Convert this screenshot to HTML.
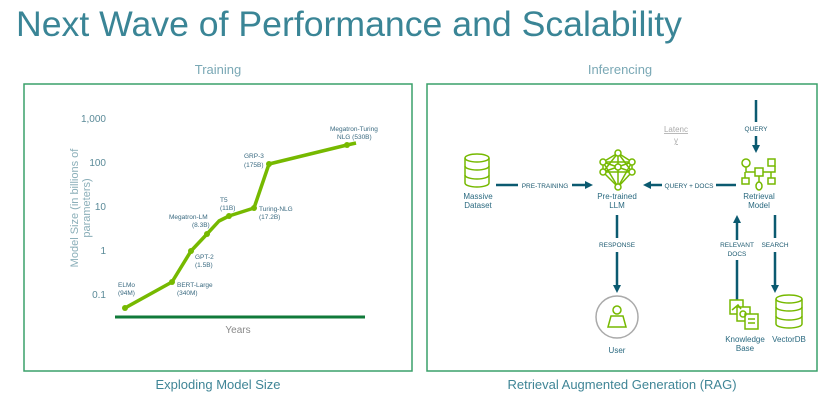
<!DOCTYPE html>
<html><head><meta charset="utf-8"><style>
html,body{margin:0;padding:0;background:#fff;}
svg{display:block;font-family:"Liberation Sans",sans-serif;}
</style></head><body>
<svg width="831" height="402" viewBox="0 0 831 402" xmlns="http://www.w3.org/2000/svg">
<defs>
<marker id="ah" markerWidth="8" markerHeight="8" refX="5" refY="4" orient="auto" markerUnits="userSpaceOnUse">
<path d="M0,0 L8,4 L0,8 Z" fill="#0b5a70"/></marker>
</defs>
<text x="16" y="36" font-size="35" fill="#3a8596" textLength="666" lengthAdjust="spacingAndGlyphs">Next Wave of Performance and Scalability</text>
<text x="218" y="74" font-size="13" fill="#7aa8b5" text-anchor="middle">Training</text>
<text x="620" y="74" font-size="13" fill="#7aa8b5" text-anchor="middle">Inferencing</text>
<rect x="24" y="84" width="388" height="287" fill="none" stroke="#3aa06a" stroke-width="1.5"/>
<rect x="427" y="84" width="390" height="287" fill="none" stroke="#3aa06a" stroke-width="1.5"/>
<text x="218" y="389" font-size="13" fill="#3f8596" text-anchor="middle">Exploding Model Size</text>
<text x="622" y="389" font-size="13" fill="#3f8596" text-anchor="middle">Retrieval Augmented Generation (RAG)</text>
<g font-size="10" fill="#5a8a98" text-anchor="end">
<text x="106" y="122">1,000</text><text x="106" y="166">100</text><text x="106" y="210">10</text><text x="106" y="254">1</text><text x="106" y="298">0.1</text>
</g>
<text transform="translate(78,208) rotate(-90)" font-size="11" fill="#8aaeb8" text-anchor="middle">Model Size (in billions of</text>
<text transform="translate(90,208) rotate(-90)" font-size="11" fill="#8aaeb8" text-anchor="middle">parameters)</text>
<line x1="115" y1="317" x2="365" y2="317" stroke="#107a3a" stroke-width="3"/>
<text x="238" y="333" font-size="10" fill="#888" text-anchor="middle">Years</text>
<polyline points="125,308 172,282 191,251 207,234 219,221 229,216 254,208 269,164 347,145 356,143" fill="none" stroke="#76b900" stroke-width="3.5" stroke-linejoin="round"/>
<g fill="#76b900"><circle cx="125" cy="308" r="3"/><circle cx="172" cy="282" r="3"/><circle cx="191" cy="251" r="3"/><circle cx="207" cy="234" r="3"/><circle cx="229" cy="216" r="3"/><circle cx="254" cy="208" r="3"/><circle cx="269" cy="164" r="3"/><circle cx="347" cy="145" r="3"/></g>
<g font-size="6.5" fill="#3a6a80">
<text x="118" y="287">ELMo</text><text x="118" y="295">(94M)</text>
<text x="177" y="287">BERT-Large</text><text x="177" y="295">(340M)</text>
<text x="195" y="259">GPT-2</text><text x="195" y="267">(1.5B)</text>
<text x="169" y="219">Megatron-LM</text><text x="192" y="227">(8.3B)</text>
<text x="220" y="202">T5</text><text x="220" y="210">(11B)</text>
<text x="259" y="211">Turing-NLG</text><text x="259" y="219">(17.2B)</text>
<text x="244" y="158">GRP-3</text><text x="244" y="167">(175B)</text>
<text x="330" y="131">Megatron-Turing</text><text x="337" y="139">NLG (530B)</text>
</g>
<g stroke="#0b5a70" stroke-width="2.5" fill="none">
<line x1="496" y1="185" x2="518" y2="185"/><line x1="572" y1="185" x2="590" y2="185" marker-end="url(#ah)"/>
<line x1="736" y1="185" x2="716" y2="185"/><line x1="662" y1="185" x2="646" y2="185" marker-end="url(#ah)"/>
<line x1="756" y1="100" x2="756" y2="122"/><line x1="756" y1="136" x2="756" y2="150" marker-end="url(#ah)"/>
<line x1="617" y1="215" x2="617" y2="238"/><line x1="617" y1="252" x2="617" y2="290" marker-end="url(#ah)"/>
<line x1="737" y1="300" x2="737" y2="260"/><line x1="737" y1="240" x2="737" y2="218" marker-end="url(#ah)"/>
<line x1="775" y1="215" x2="775" y2="238"/><line x1="775" y1="252" x2="775" y2="290" marker-end="url(#ah)"/>
</g>
<g font-size="6.5" fill="#1d5a70" text-anchor="middle">
<text x="545" y="188">PRE-TRAINING</text>
<text x="689" y="188">QUERY + DOCS</text>
<text x="756" y="131">QUERY</text>
<text x="617" y="247">RESPONSE</text>
<text x="737" y="247">RELEVANT</text><text x="737" y="256">DOCS</text>
<text x="775" y="247">SEARCH</text>
</g>
<text x="676" y="132" font-size="8" fill="#aaa" text-anchor="middle" text-decoration="underline">Latenc</text>
<text x="676" y="143" font-size="8" fill="#aaa" text-anchor="middle" text-decoration="underline">y</text>
<g font-size="8" fill="#2b6a80" text-anchor="middle">
<text x="478" y="199">Massive</text><text x="478" y="208">Dataset</text>
<text x="617" y="199">Pre-trained</text><text x="617" y="208">LLM</text>
<text x="759" y="199">Retrieval</text><text x="759" y="208">Model</text>
<text x="617" y="353">User</text>
<text x="745" y="342">Knowledge</text><text x="745" y="351">Base</text>
<text x="789" y="342">VectorDB</text>
</g>
<g stroke="#76b900" stroke-width="1.5" fill="none">
<ellipse cx="477" cy="158" rx="12" ry="4"/><path d="M465,158 V183 A12,4 0 0 0 489,183 V158"/><path d="M465,166 A12,4 0 0 0 489,166 M465,175 A12,4 0 0 0 489,175"/>
<ellipse cx="789" cy="299" rx="13" ry="4"/><path d="M776,299 V324 A13,4 0 0 0 802,324 V299"/><path d="M776,307 A13,4 0 0 0 802,307 M776,316 A13,4 0 0 0 802,316"/>
<g>
<line x1="618" y1="153" x2="603" y2="162"/><line x1="618" y1="153" x2="632" y2="162"/><line x1="618" y1="153" x2="603" y2="172"/><line x1="618" y1="153" x2="632" y2="172"/><line x1="618" y1="153" x2="618" y2="187"/>
<line x1="603" y1="162" x2="632" y2="162"/><line x1="603" y1="172" x2="632" y2="172"/><line x1="603" y1="162" x2="603" y2="172"/><line x1="632" y1="162" x2="632" y2="172"/>
<line x1="603" y1="162" x2="632" y2="172"/><line x1="603" y1="172" x2="632" y2="162"/>
<line x1="603" y1="172" x2="618" y2="187"/><line x1="632" y1="172" x2="618" y2="187"/><line x1="603" y1="162" x2="618" y2="187"/><line x1="632" y1="162" x2="618" y2="187"/>
</g>
<g fill="#fff"><circle cx="618" cy="153" r="3"/><circle cx="603" cy="162" r="3"/><circle cx="632" cy="162" r="3"/><circle cx="603" cy="172" r="3"/><circle cx="632" cy="172" r="3"/><circle cx="618" cy="187" r="3"/><circle cx="618" cy="167" r="3"/></g>
<circle cx="746" cy="163" r="4"/><rect x="768" y="159" width="7" height="7"/><rect x="755" y="168" width="8" height="8"/>
<rect x="742" y="178" width="7" height="6"/><rect x="768" y="178" width="7" height="6"/><ellipse cx="759" cy="186" rx="3" ry="4"/>
<path d="M746,167 V172 H755 M775,166 V172 H763 M745,178 V172 M771,178 V172 M759,176 V182"/>
<rect x="730" y="300" width="13" height="14" fill="#fff"/><rect x="737" y="307" width="13" height="14" fill="#fff"/><rect x="745" y="314" width="13" height="15" fill="#fff"/>
<path d="M748,319 H755 M748,323 H755 M732,310 L738,305 L741,309"/><circle cx="743" cy="314" r="3"/>
</g>
<circle cx="617" cy="317" r="21" fill="none" stroke="#aaa" stroke-width="1.5"/>
<circle cx="617" cy="310" r="4" fill="none" stroke="#76b900" stroke-width="1.5"/>
<path d="M611,316 H623 L626,327 H608 Z" fill="none" stroke="#76b900" stroke-width="1.5"/>
</svg>
</body></html>
